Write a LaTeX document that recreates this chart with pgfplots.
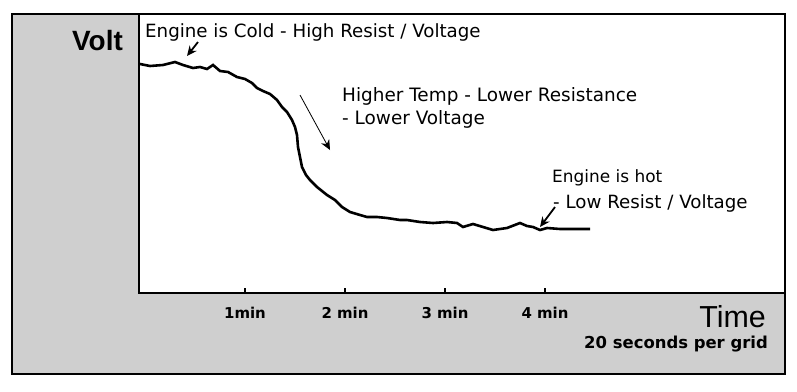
\documentclass[border=0pt]{standalone}
\usepackage{pgfplots}
\pgfplotsset{compat=1.18}
\usepackage{pgfplotstable}
\usepackage{fontspec}
\setmainfont{DejaVu Sans}
\newfontfamily\arial{Liberation Sans}
\usetikzlibrary{arrows.meta}

\pgfplotstableread{
x y
-0.05 229
0.05 227
0.18 228
0.30 231
0.38 228
0.48 225
0.55 226
0.62 224
0.68 228
0.75 222
0.83 221
0.92 216
1.00 214
1.07 210
1.12 205
1.18 202
1.25 199
1.32 193
1.37 186
1.42 181
1.47 173
1.50 166
1.52 158
1.53 146
1.55 136
1.57 126
1.61 118
1.65 113
1.72 106
1.82 98
1.90 93
1.97 86
2.05 81
2.15 78
2.22 76
2.32 76
2.42 75
2.55 73
2.62 73
2.75 71
2.88 70
3.02 71
3.12 70
3.18 66
3.28 69
3.38 66
3.48 63
3.62 65
3.75 70
3.82 67
3.88 66
3.95 63
4.02 65
4.15 64
4.30 64
4.45 64
}\voltdata

\begin{document}
\begin{tikzpicture}[x=1bp,y=1bp]
\fill[white] (-139,-98) rectangle (658,293);
\useasboundingbox (-139,-98) rectangle (658,293);
\fill[black!19] (-127,-81) rectangle (646,279);
\begin{axis}[at={(0,0)}, anchor=south west, scale only axis,
  width=646bp, height=279bp,
  xmin=-0.06, xmax=6.40, ymin=0, ymax=279,
  xtick={1,2,3,4}, xticklabels={1min,2 min,3 min,4 min},
  ytick=\empty, xtick pos=left,
  major tick length=5bp, tick style={black, line width=2bp},
  axis line style={line width=2.5bp},
  axis background/.style={fill=white},
  xticklabel style={font=\fontsize{15}{18}\selectfont\bfseries, anchor=base, yshift=-25bp},
  clip=false]
\addplot[black, line width=2.6bp, mark=none] table {\voltdata};
\end{axis}
\draw[line width=2bp] (-127,-81) rectangle (646,279);
\node[anchor=base west, inner sep=0] at (-67,243) {\arial\bfseries\fontsize{28}{30}\selectfont Volt};
\node[anchor=base east, inner sep=0] at (627,-34) {\arial\fontsize{30.5}{32}\selectfont Time};
\node[anchor=base east, inner sep=0] at (629,-55) {\bfseries\fontsize{16.5}{18}\selectfont 20 seconds per grid};
\node[anchor=base west, inner sep=0] at (6,256) {\fontsize{18.3}{22}\selectfont Engine is Cold - High Resist / Voltage};
\node[anchor=base west, inner sep=0] at (203,192) {\fontsize{18.5}{22}\selectfont Higher Temp - Lower Resistance};
\node[anchor=base west, inner sep=0] at (203,169) {\fontsize{18.5}{22}\selectfont - Lower Voltage};
\node[anchor=base west, inner sep=0] at (413,111) {\fontsize{17}{22}\selectfont Engine is hot};
\node[anchor=base west, inner sep=0] at (414,85) {\fontsize{18.3}{22}\selectfont - Low Resist / Voltage};
\draw[line width=1.8bp, -{Stealth[length=10bp,width=9bp]}] (59,251) -- (48,237);
\draw[line width=0.8bp, -{Stealth[length=10bp,width=9bp]}] (161,198) -- (191,143);
\draw[line width=1.8bp, -{Stealth[length=10bp,width=9bp]}] (416,86) -- (401,66);
\end{tikzpicture}
\end{document}
